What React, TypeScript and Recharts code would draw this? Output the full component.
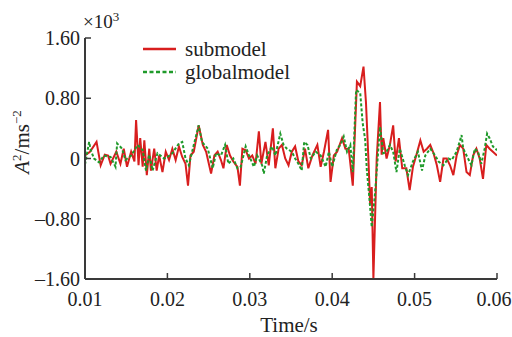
import React from 'react';
import { LineChart, Line, XAxis, YAxis, Customized } from 'recharts';

// submodel: sample times (s) and values (x10^3)
const subTimes = [
  0.01, 0.0106, 0.0114, 0.0119, 0.0124, 0.0128, 0.0131, 0.0138, 0.0143, 0.0147,
  0.0151, 0.0156, 0.016, 0.0162, 0.0165, 0.0167, 0.017, 0.0172, 0.0175, 0.0178,
  0.018, 0.0184, 0.0187, 0.019, 0.0194, 0.0198, 0.0202, 0.0206, 0.021, 0.0214,
  0.0218, 0.0222, 0.0225, 0.0228, 0.0232, 0.0238, 0.0243, 0.0247, 0.0253, 0.0257,
  0.0261, 0.0265, 0.0268, 0.0272, 0.0276, 0.028, 0.0285, 0.0288, 0.0291, 0.0295,
  0.0299, 0.0303, 0.0307, 0.0311, 0.0314, 0.0319, 0.0323, 0.0328, 0.0331, 0.0335,
  0.0339, 0.0343, 0.0347, 0.0351, 0.0355, 0.0359, 0.0363, 0.0367, 0.0371, 0.0376,
  0.0382, 0.0386, 0.039, 0.0395, 0.0398, 0.0402, 0.0406, 0.0412, 0.0416, 0.042,
  0.0425, 0.043, 0.0434, 0.0438, 0.0441, 0.0444, 0.0446, 0.0448, 0.045, 0.0454,
  0.0458, 0.046, 0.0462, 0.0466, 0.047, 0.0474, 0.0477, 0.0481, 0.0485, 0.049,
  0.0494, 0.0498, 0.0502, 0.0507, 0.0511, 0.0515, 0.0519, 0.0523, 0.0527, 0.0531,
  0.0535, 0.0539, 0.0543, 0.0547, 0.0551, 0.0555, 0.0559, 0.0563, 0.0567, 0.0571,
  0.0575, 0.0579, 0.0583, 0.0587, 0.0591, 0.0595, 0.06,
];
const subValues = [
  0.04, 0.09, 0.22, -0.09, 0.05, 0.04, -0.07, 0.09, -0.07, 0.13,
  -0.11, 0.09, -0.04, 0.51, -0.09, 0.27, -0.11, 0.24, -0.22, 0.13,
  -0.16, 0.13, -0.16, 0.04, -0.18, 0.09, -0.02, 0.13, -0.02, 0.16,
  0.02, -0.07, -0.36, 0.04, 0.09, 0.44, 0.18, 0.09, -0.2, 0.04,
  0.09, -0.02, -0.13, 0.18, 0.04, -0.04, -0.11, -0.36, 0.13, 0.11,
  0.0, 0.04, -0.07, 0.36, -0.07, 0.22, -0.09, 0.4, -0.13, 0.13,
  0.18, 0.0, -0.09, 0.09, 0.16, -0.04, -0.09, 0.13, -0.13, 0.04,
  0.18, -0.11, 0.09, 0.38, -0.31, 0.04, 0.09, 0.27, 0.13, 0.13,
  -0.36, 1.02, 0.96, 1.22, 0.74, -0.02, -0.6, -0.38, -1.6, 0.0,
  0.75, 0.05, 0.27, 0.0, 0.18, 0.44, -0.04, 0.27, -0.13, -0.13,
  -0.42, -0.11, 0.04, 0.24, 0.09, 0.13, 0.18, 0.07, -0.09, -0.31,
  0.0, 0.0, -0.09, -0.22, 0.04, 0.18, 0.13, -0.18, -0.22, 0.04,
  0.13, 0.0, -0.27, 0.18, 0.13, 0.09, 0.04,
];

// globalmodel: sample times (s) and values (x10^3)
const globTimes = [
  0.01, 0.0105, 0.0107, 0.0111, 0.0117, 0.0123, 0.0131, 0.0137, 0.0139, 0.0145,
  0.0149, 0.0156, 0.0164, 0.017, 0.0174, 0.0178, 0.0182, 0.0188, 0.0196, 0.02,
  0.0206, 0.0214, 0.0218, 0.0222, 0.0226, 0.0232, 0.0238, 0.0242, 0.0249, 0.0255,
  0.0259, 0.0265, 0.027, 0.0274, 0.028, 0.0285, 0.0289, 0.0295, 0.0299, 0.0305,
  0.0309, 0.0315, 0.0317, 0.0321, 0.0327, 0.0331, 0.0337, 0.0341, 0.0345, 0.0351,
  0.0355, 0.0359, 0.0363, 0.0366, 0.037, 0.0374, 0.038, 0.0386, 0.0392, 0.0396,
  0.04, 0.0406, 0.041, 0.0414, 0.0418, 0.0422, 0.0425, 0.0429, 0.0434, 0.0437,
  0.044, 0.0442, 0.0445, 0.0448, 0.0452, 0.0455, 0.0458, 0.0462, 0.0466, 0.047,
  0.0474, 0.0478, 0.0482, 0.0488, 0.0492, 0.0498, 0.0504, 0.0509, 0.0513, 0.0519,
  0.0525, 0.0529, 0.0535, 0.0541, 0.0545, 0.0551, 0.0557, 0.0559, 0.0563, 0.0569,
  0.0573, 0.0577, 0.0581, 0.0585, 0.0588, 0.0591, 0.0595, 0.06,
];
const globValues = [
  -0.08, 0.22, 0.11, 0.0, -0.05, 0.04, 0.02, -0.11, 0.2, 0.13,
  -0.02, 0.04, 0.18, 0.11, -0.16, 0.05, -0.16, 0.07, 0.0, 0.02,
  0.07, 0.2, 0.22, 0.0, -0.09, 0.18, 0.44, 0.22, 0.13, -0.13,
  0.07, 0.04, 0.18, -0.07, 0.0, -0.13, -0.11, 0.16, 0.04, -0.11,
  0.04, -0.09, -0.2, 0.04, 0.16, 0.04, 0.33, 0.18, 0.13, 0.09,
  0.0, -0.07, -0.16, 0.22, 0.18, 0.0, 0.09, 0.04, -0.11, 0.09,
  -0.11, 0.13, 0.18, 0.29, 0.09, 0.18, -0.18, 0.91, 0.87, 0.47,
  0.25, -0.15, -0.51, -0.91, -0.46, -0.02, 0.42, 0.07, 0.09, 0.18,
  0.09, -0.18, 0.13, -0.09, -0.22, -0.04, 0.09, -0.16, 0.04, 0.13,
  0.04, -0.04, -0.09, 0.0, -0.02, 0.09, 0.31, 0.13, 0.04, -0.09,
  0.13, 0.09, -0.07, 0.13, 0.33, 0.27, 0.16, 0.11,
];

const xTicks = [0.01, 0.02, 0.03, 0.04, 0.05, 0.06];
const xTickLabels = ['0.01', '0.02', '0.03', '0.04', '0.05', '0.06'];
const yTicks = [-1.6, -0.8, 0, 0.8, 1.6];
const yTickLabels = ['\u20131.60', '\u20130.80', '0', '0.80', '1.60'];

const subData = subTimes.map((t, i) => ({ t, v: subValues[i] }));
const globData = globTimes.map((t, i) => ({ t, v: globValues[i] }));

const FONT = '"Liberation Serif", "DejaVu Serif", serif';
const AXIS = '#3a3a3a';
const RED = '#d81e1e';
const GREEN = '#1f9a2a';

const XTick = (props: any) => {
  const { x, payload } = props;
  const y = 279;
  const idx = xTicks.indexOf(payload.value);
  const dx = idx === xTicks.length - 1 ? -3 : 0;
  return (
    <g>
      <line x1={x} y1={y} x2={x} y2={y - 6} stroke={AXIS} strokeWidth={1.5} />
      <text x={x + dx} y={y + 27} textAnchor="middle" fontFamily={FONT} fontSize={20} fill="#222">
        {idx >= 0 ? xTickLabels[idx] : payload.value}
      </text>
    </g>
  );
};

const YTick = (props: any) => {
  const { y, payload } = props;
  const x = 85;
  const idx = yTicks.indexOf(payload.value);
  return (
    <g>
      <line x1={x} y1={y} x2={x + 6} y2={y} stroke={AXIS} strokeWidth={1.5} />
      <text x={x - 5} y={y + 7} textAnchor="end" fontFamily={FONT} fontSize={20} fill="#222">
        {idx >= 0 ? yTickLabels[idx] : payload.value}
      </text>
    </g>
  );
};

const Decor = () => (
  <g>
    <text x={83} y={28} fontFamily={FONT} fontSize={19} fill="#222">
      ×10<tspan dy={-7} fontSize={13}>3</tspan>
    </text>
    <line x1={143} y1={49} x2={176} y2={49} stroke={RED} strokeWidth={2.5} />
    <text x={185} y={56} fontFamily={FONT} fontSize={21} fill="#222">submodel</text>
    <line x1={143} y1={72} x2={176} y2={72} stroke={GREEN} strokeWidth={2.5} strokeDasharray="4 2.5" />
    <text x={185} y={79} fontFamily={FONT} fontSize={21} fill="#222">globalmodel</text>
    <text x={289} y={332} textAnchor="middle" fontFamily={FONT} fontSize={21} fill="#222">Time/s</text>
    <text
      transform="translate(29,142) rotate(-90)"
      textAnchor="middle"
      fontFamily={FONT}
      fontSize={21}
      fill="#222"
    >
      <tspan fontStyle="italic">A</tspan>
      <tspan dy={-8} fontSize={13}>2</tspan>
      <tspan dy={8}>/ms</tspan>
      <tspan dy={-8} fontSize={13}>{'\u22122'}</tspan>
    </text>
  </g>
);

export default function App() {
  return (
    <div style={{ position: 'absolute', left: 0, top: 0, width: 512, height: 337, background: '#fff' }}>
      <LineChart width={512} height={337} margin={{ top: 38, right: 15, bottom: 28, left: 25 }}>
        <XAxis
          dataKey="t"
          type="number"
          domain={[0.01, 0.06]}
          ticks={xTicks}
          height={30}
          axisLine={{ stroke: AXIS, strokeWidth: 2 }}
          tickLine={false}
          tick={<XTick />}
          interval={0}
          allowDataOverflow
          allowDuplicatedCategory={false}
        />
        <YAxis
          type="number"
          domain={[-1.6, 1.6]}
          ticks={yTicks}
          width={60}
          axisLine={{ stroke: AXIS, strokeWidth: 2 }}
          tickLine={false}
          tick={<YTick />}
          interval={0}
          allowDataOverflow
        />
        <Line
          data={subData}
          type="linear"
          dataKey="v"
          name="submodel"
          stroke={RED}
          strokeWidth={2}
          dot={false}
          isAnimationActive={false}
        />
        <Line
          data={globData}
          type="linear"
          dataKey="v"
          name="globalmodel"
          stroke={GREEN}
          strokeWidth={2}
          strokeDasharray="3 2"
          dot={false}
          isAnimationActive={false}
        />
        <Customized component={Decor} />
      </LineChart>
    </div>
  );
}
